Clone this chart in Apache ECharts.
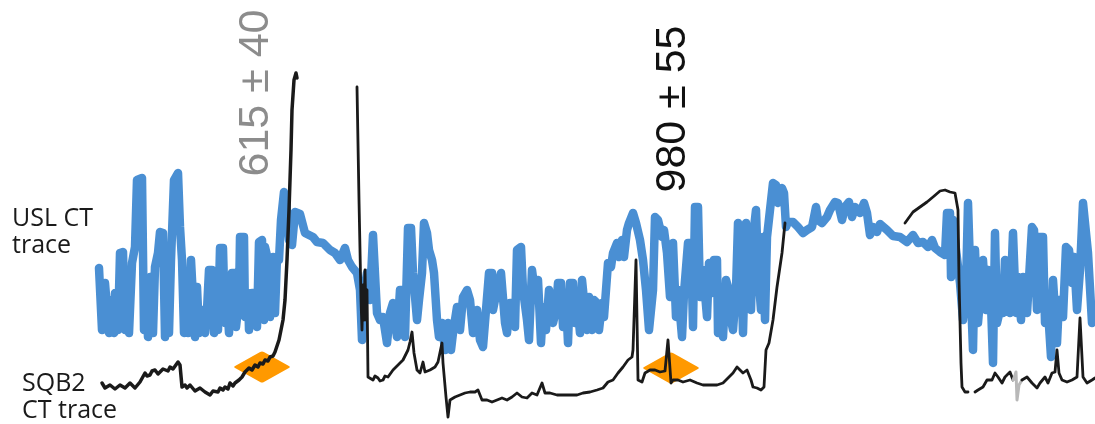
<!DOCTYPE html>
<html>
<head>
<meta charset="utf-8">
<script src="https://cdn.jsdelivr.net/npm/echarts@6/dist/echarts.min.js"></script>
<style>
html,body{margin:0;padding:0;background:#fff;}
#c{width:1095px;height:424px;}
</style>
</head>
<body>
<div id="c"></div>
<script>
// time (arbitrary units) and signal level (arbitrary units)
const uslTrace = [
[99,132],[102,70],[105,117],[109,67],[110,100],[114,67],[115,107],[118,70],[120,147],[123,148],
[125,70],[127,107],[129,67],[132,137],[135,153],[137,220],[142,222],[144,70],[146,120],[148,63],
[150,123],[153,67],[155,133],[158,147],[160,168],[163,167],[165,63],[167,123],[169,67],[171,140],
[174,220],[178,227],[180,173],[182,140],[184,67],[186,100],[188,67],[191,140],[193,140],[195,63],
[197,113],[199,67],[202,90],[205,67],[207,90],[209,130],[212,130],[214,67],[216,107],[218,70],
[220,152],[223,152],[225,77],[227,103],[229,67],[232,127],[235,127],[236,73],[239,100],[240,163],
[244,163],[245,83],[248,107],[249,70],[252,107],[255,107],[257,73],[259,158],[262,160],[264,80],
[265,153],[268,140],[270,83],[273,143],[275,87],[277,143],[279,140],[281,180],[284,208],[286,200],
[289,160],[292,155],[295,188],[300,186],[305,167],[313,163],[317,158],[323,157],[330,150],[335,147],
[340,140],[345,152],[348,140],[352,133],[357,127],[360,110],[362,60],[364,107],[367,127],[370,100],
[373,165],[375,165],[377,87],[380,80],[383,83],[387,57],[390,87],[393,97],[397,63],[400,110],
[403,110],[405,63],[408,172],[411,172],[413,127],[417,80],[419,100],[422,127],[424,177],[427,167],
[429,150],[432,140],[434,127],[437,80],[439,63],[442,77],[445,50],[448,77],[451,50],[453,67],
[457,93],[460,70],[463,103],[467,110],[470,100],[473,67],[477,90],[480,60],[483,53],[486,90],
[489,127],[492,127],[493,90],[497,110],[501,127],[503,127],[505,77],[507,67],[510,97],[513,97],
[515,73],[517,150],[521,153],[523,110],[527,80],[529,60],[532,130],[534,130],[536,100],[538,120],
[541,57],[543,93],[546,70],[549,110],[551,110],[553,77],[556,90],[558,117],[561,117],[563,73],
[566,100],[568,57],[570,117],[573,117],[575,77],[577,100],[580,67],[582,120],[584,120],[587,70],
[589,103],[592,70],[594,100],[597,97],[599,70],[602,97],[604,83],[606,110],[608,137],[611,133],
[613,147],[617,157],[619,143],[622,160],[624,143],[627,170],[629,177],[633,187],[636,177],[640,160],
[643,140],[646,110],[649,70],[653,110],[655,183],[658,180],[662,163],[664,170],[667,147],[670,103],
[673,157],[676,83],[678,110],[682,63],[684,107],[686,107],[688,157],[691,157],[693,73],[695,193],
[698,193],[700,103],[703,130],[705,130],[707,83],[709,137],[712,107],[714,140],[717,140],[718,67],
[721,90],[723,63],[726,120],[728,113],[731,80],[733,70],[736,110],[738,177],[741,143],[743,67],
[746,177],[748,177],[751,90],[753,163],[756,190],[758,130],[761,90],[763,163],[765,80],[767,163],
[770,190],[773,217],[776,215],[778,197],[782,212],[784,207],[786,173],[788,178],[793,178],[798,173],
[803,167],[807,170],[812,173],[816,193],[818,180],[822,177],[827,183],[830,190],[835,198],[838,197],
[842,180],[845,193],[849,198],[852,183],[855,193],[860,187],[864,197],[867,187],[870,165],[873,173],
[877,168],[880,176],[887,170],[893,164],[900,163],[907,158],[913,165],[918,157],[923,158],[928,153],
[932,160],[935,152],[940,148],[945,145],[947,187],[950,187],[951,123],[953,180],[956,150],[960,117],
[963,80],[966,113],[968,197],[971,103],[973,50],[975,150],[977,150],[978,77],[981,113],[983,140],
[986,90],[988,130],[991,97],[993,37],[995,167],[997,77],[1000,90],[1003,87],[1005,140],[1007,90],
[1010,87],[1013,167],[1016,87],[1018,123],[1021,80],[1023,123],[1027,87],[1032,173],[1034,170],[1037,90],
[1039,163],[1043,163],[1045,77],[1048,90],[1051,43],[1053,120],[1057,57],[1059,100],[1063,83],[1066,153],
[1069,150],[1072,117],[1074,143],[1077,90],[1080,130],[1083,197],[1085,197],[1088,147],[1092,77]
];

const sqb2Part1 = [
[102,17],[105,12],[107,10],[110,15],[112,17],[115,11],[117,10],[120,15],[122,17],[125,12],[127,13],[130,17],[132,18],[135,12],[137,13],[140,18],[142,20],[145,27],
[147,24],[150,25],[152,29],[155,30],[158,26],[160,27],[163,31],[165,32],[168,29],[170,33],[173,31],[175,33],[178,38],[180,35],[182,13],[185,15],[187,12],
[190,15],[192,13],[195,9],[197,10],[200,12],[202,10],[205,8],[207,7],[210,5],[213,9],[215,10],[218,8],[220,12],[223,10],[225,13],[228,11],[230,17],[233,14],[235,17],
[239,20],[242,23],[245,28],[249,32],[252,30],[255,35],[258,33],[260,37],[263,36],[265,40],[268,39],[270,43],[273,44],[275,48],
[279,60],[283,80],[285,100],[287,140],[289,190],[291,250],[292,290],[294,320],[296,327],[297,322]
];
const sqb2Part2 = [
[357,313],[359,200],[361,100],[362,70],[363,115],[364,80],[365,130],[366,80],[367,110],[368,23],
[370,23],[373,20],[375,24],[378,22],[380,19],[383,20],[385,24],[388,23],[393,30],[398,35],[403,40],[408,50],[410,58],
[412,68],[414,47],[417,30],[420,27],[423,38],[425,28],[430,30],[435,33],[438,38],[442,57],
[443,37],[446,3],[448,-17],[450,0],[455,3],[460,5],[465,7],[470,8],[475,8],[478,10],
[482,0],[487,0],[492,-2],[497,0],[502,2],[507,0],[512,3],[517,7],[522,3],[527,2],
[532,7],[537,5],[542,17],[545,7],[550,7],[557,5],[563,5],[570,5],[577,5],[583,7],
[590,8],[597,10],[603,12],[608,18],[613,20],[618,27],[623,33],[628,40],[632,43],[633,50],
[636,140],[638,20],[642,18],[645,27],[650,30],[655,30],[660,28],[665,29],[667,30],[668,60],
[671,17],[673,20],[678,20],[683,18],[690,20],[697,17],[703,15],[710,15],[717,15],[723,17],
[728,22],[733,27],[737,33],[740,30],[743,27],[747,30],[751,20],[753,13],[757,12],[761,10],
[764,13],[766,50],[769,57],[773,80],[777,113],[782,147],[785,177]
];
const sqb2Part3 = [
[905,177],[913,188],[920,193],[927,198],[933,203],[940,209],[945,210],[950,208],[955,207],[958,190],
[959,120],[961,37],[962,13],[965,8],[968,8]
];
const sqb2Part4 = [
[975,8],[978,10],[983,13],[987,20],[992,20],[995,27],[998,23],[1002,17],[1005,23],[1010,28],[1013,20]
];
const sqb2Grey = [[1013,20],[1015,25],[1016,28],[1017,0],[1019,15],[1022,20]];
const sqb2Part5 = [
[1022,20],[1027,23],[1032,17],[1037,12],[1040,17],[1045,23],[1048,17],[1052,27],[1055,28],[1057,50],
[1059,27],[1062,20],[1067,18],[1072,20],[1077,23],[1080,82],[1083,23],[1087,17],[1092,20],[1095,22]
];

const onsetMarks = [[262,33],[671,32]];
const onsetLabels = ['615 ± 40','980 ± 55'];
const traceLabels = ['USL CT\ntrace','SQB2\nCT trace'];

const BLUE = '#4a8fd3';
const BLACK = '#1a1a1a';
const ORANGE = '#ff9900';

const chart = echarts.init(document.getElementById('c'), null, {renderer:'canvas'});

function blackSeries(data, color, width){
  return {
    type:'line', data:data, showSymbol:false, silent:true, z:5,
    lineStyle:{color:color||BLACK, width:width||2.8, cap:'round', join:'round'}
  };
}

chart.setOption({
  animation:false,
  backgroundColor:'#ffffff',
  grid:{left:0,right:0,top:0,bottom:0},
  xAxis:{type:'value',min:0,max:1095,show:false},
  yAxis:{type:'value',min:-24,max:400,show:false},
  series:[
    {type:'line',data:uslTrace,showSymbol:false,silent:true,z:2,
     lineStyle:{color:BLUE,width:8.5,cap:'round',join:'round'}},
    {type:'scatter',data:onsetMarks,symbol:'diamond',symbolSize:[50,28],silent:true,z:3,
     itemStyle:{color:ORANGE,opacity:1,borderColor:ORANGE,borderWidth:4,borderJoin:'round'}},
    blackSeries(sqb2Part1,BLACK,3.5),
    blackSeries(sqb2Part2),
    blackSeries(sqb2Part3),
    blackSeries(sqb2Part4),
    blackSeries(sqb2Grey,'#b8b8b8',3),
    blackSeries(sqb2Part5)
  ],
  graphic:[
    {type:'text',x:256,y:93,rotation:Math.PI/2,
     style:{text:onsetLabels[0],fill:'#8c8c8c',font:'43px "Liberation Sans", Arial, sans-serif',align:'center',verticalAlign:'middle'}},
    {type:'text',x:673,y:109,rotation:Math.PI/2,
     style:{text:onsetLabels[1],fill:'#111111',font:'43px "Liberation Sans", Arial, sans-serif',align:'center',verticalAlign:'middle'}},
    {type:'text',x:12,y:205,
     style:{text:traceLabels[0],fill:'#1a1a1a',font:'25px "Open Sans", sans-serif',lineHeight:27,align:'left',verticalAlign:'top'}},
    {type:'text',x:22,y:370,
     style:{text:traceLabels[1],fill:'#1a1a1a',font:'25px "Open Sans", sans-serif',lineHeight:27,align:'left',verticalAlign:'top'}}
  ]
});
</script>
</body>
</html>
